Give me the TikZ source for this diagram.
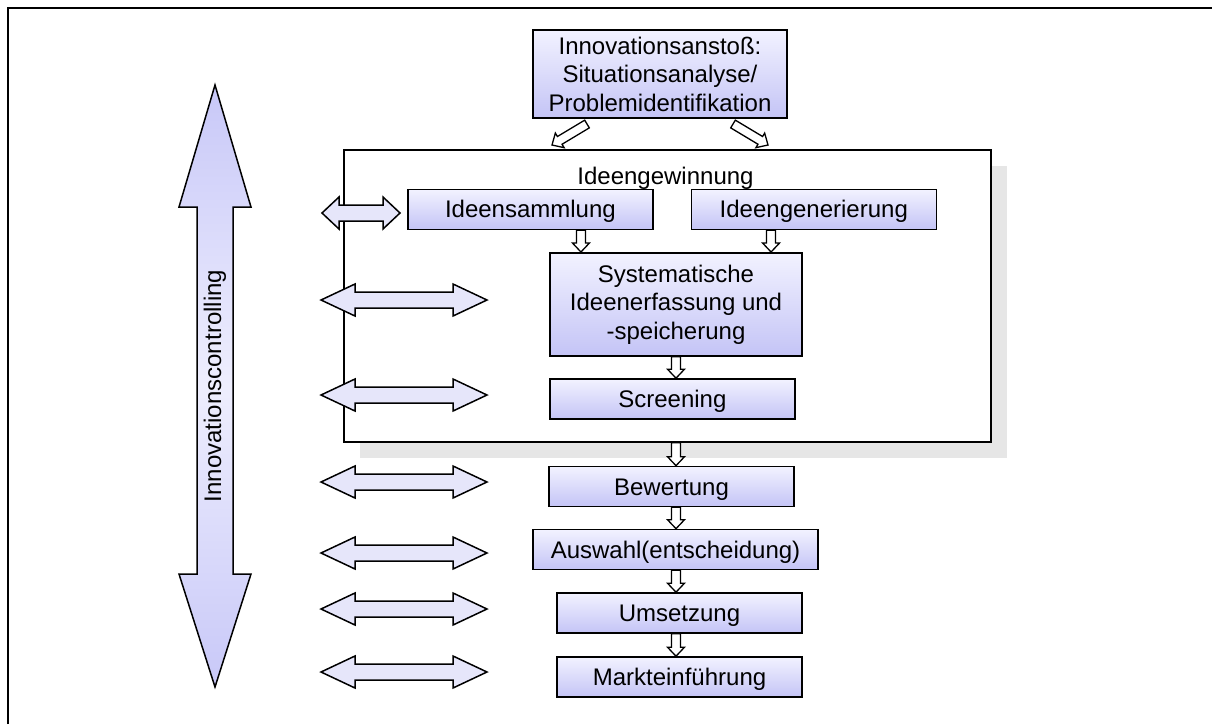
\documentclass[tikz,border=0pt]{standalone}
\usepackage{fontspec}
\setmainfont{Liberation Sans}
\usetikzlibrary{calc}
\definecolor{lavtop}{RGB}{242,242,255}
\definecolor{lavbot}{RGB}{196,196,246}
\definecolor{lavpale}{RGB}{230,230,250}
\definecolor{lavmid}{RGB}{238,238,253}
\definecolor{lavbig}{RGB}{200,200,248}
\definecolor{shadowgray}{RGB}{230,230,230}
\tikzset{
  stepbox/.style={draw, line width=1.6pt, top color=lavtop, bottom color=lavbot,
    align=center, inner sep=0pt, minimum width=245pt, minimum height=40pt},
  oneline/.style={text height=17pt, text depth=0pt},
  hollowarr/.style={draw, line width=1.3pt, fill=white, line join=miter},
  twoway/.style={draw, line width=1.5pt, fill=lavpale},
}
% hollow block arrow from #1 to #2
\newcommand\hollowarrow[2]{%
  \draw[hollowarr] let \p1=(#1), \p2=(#2), \n1={atan2(\y2-\y1,\x2-\x1)} in
    ($(\p1)+(\n1+90:4.5pt)$) -- ($(\p2)+(\n1+180:9pt)+(\n1+90:4.5pt)$)
    -- ($(\p2)+(\n1+180:9pt)+(\n1+90:8.5pt)$) -- (\p2)
    -- ($(\p2)+(\n1+180:9pt)+(\n1-90:8.5pt)$) -- ($(\p2)+(\n1+180:9pt)+(\n1-90:4.5pt)$)
    -- ($(\p1)+(\n1-90:4.5pt)$) -- cycle;}
% double arrow: centre, half length, head length
\newcommand\twoway[3]{%
  \draw[twoway, shift={#1}] (-#2,0) -- (-#2+#3,-16) -- (-#2+#3,-8) -- (#2-#3,-8)
    -- (#2-#3,-16) -- (#2,0) -- (#2-#3,16) -- (#2-#3,8) -- (-#2+#3,8)
    -- (-#2+#3,16) -- cycle;}
\begin{document}
\begin{tikzpicture}[x=1pt, y=-1pt, font=\fontsize{24}{28.5}\selectfont]
	\useasboundingbox (0,0) rectangle (1212,724);
	% page frame
	\draw[line width=2pt] (7.5,724) -- (7.5,7.5) -- (1212,7.5);
	% Ideengewinnung
	\fill[shadowgray] (360,166) rectangle (1007,458);
	\node[draw, line width=1.6pt, fill=white, inner sep=0pt,
	  minimum width=647pt, minimum height=292pt] (gewinn) at (667.5,296) {};
	\node (gewinnlabel) at (665.5,178) {Ideengewinnung};
	% steps
	\node[stepbox, minimum width=254pt, minimum height=88pt] (impulse) at (660,74)
	  {Innovationsanstoß:\\Situationsanalyse/\\Problemidentifikation};
	\node[stepbox, oneline] (ideensam) at (530.4,209.3) {Ideensammlung};
	\node[stepbox, oneline] (ideengen) at (813.8,209.3) {Ideengenerierung};
	\node[stepbox, minimum width=252.5pt, minimum height=103pt] (system) at (676,304.3)
	  {Systematische\\Ideenerfassung und\\-speicherung};
	\node[stepbox, oneline] (screen) at (672.4,399) {Screening};
	\node[stepbox, oneline] (bewert) at (671.5,486.5) {Bewertung};
	\node[stepbox, oneline, minimum width=285pt] (auswahl) at (675.5,549.5) {Auswahl(entscheidung)};
	\node[stepbox, oneline] (umsetz) at (679.5,613) {Umsetzung};
	\node[stepbox, oneline] (markt) at (679.5,677) {Markteinführung};
	% flow
	\coordinate (d1) at (587,124);
	\coordinate (d2) at (552,145);
	\coordinate (d3) at (733,124);
	\coordinate (d4) at (768,145);
	\hollowarrow{d1}{d2}
	\hollowarrow{d3}{d4}
	\coordinate (a1) at ($(system.north west)+(32,0)$);
	\coordinate (a2) at ($(system.north east)+(-32,0)$);
	\hollowarrow{a1 |- ideensam.south}{a1}
	\hollowarrow{a2 |- ideengen.south}{a2}
	\hollowarrow{system.south}{system.south |- screen.north}
	\hollowarrow{system.south |- gewinn.south}{system.south |- bewert.north}
	\hollowarrow{system.south |- bewert.south}{system.south |- auswahl.north}
	\hollowarrow{system.south |- auswahl.south}{system.south |- umsetz.north}
	\hollowarrow{system.south |- umsetz.south}{system.south |- markt.north}
	% controlling links
	\twoway{(361,213)}{39}{17}
	\foreach \yy in {300,395,482,553,609,672}
	  \twoway{(404,\yy)}{83}{34};
	% Innovationscontrolling
	\draw[line width=1.5pt, top color=lavbig, bottom color=lavbig, middle color=lavmid]
	  (215,85) -- (251,207) -- (233,207) -- (233,574) -- (251,574) -- (215,687)
	  -- (179,574) -- (197,574) -- (197,207) -- (179,207) -- cycle;
	\node[rotate=90] (ctrl) at (215,386) {Innovationscontrolling};
\end{tikzpicture}
\end{document}
